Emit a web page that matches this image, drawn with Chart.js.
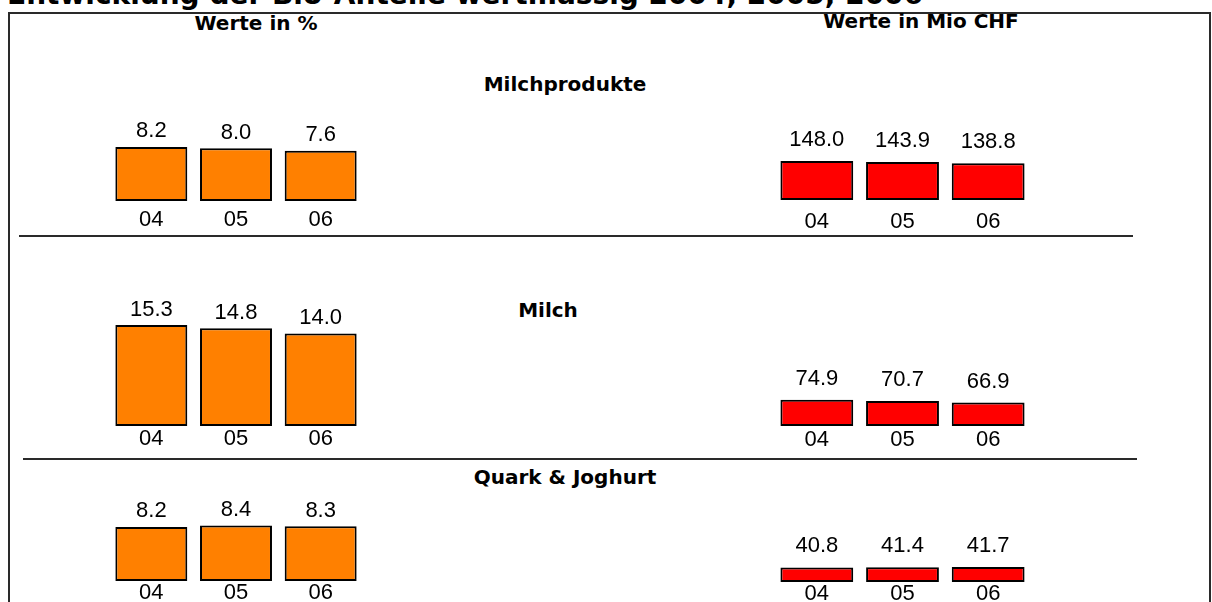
<!DOCTYPE html>
<html>
<head>
<meta charset="utf-8">
<script src="https://cdn.jsdelivr.net/npm/chart.js@4/dist/chart.umd.min.js"></script>
<style>
  html, body { margin: 0; padding: 0; background: #fff; overflow: hidden; }
  body { width: 1212px; height: 602px; position: relative; }
  .txt { position: absolute; line-height: 1; white-space: nowrap; font-family: "DejaVu Sans", sans-serif; font-weight: bold; color: #000; }
  .mitte { transform: translateX(-50%); }
  .linie { position: absolute; background: #2a2a2a; }
  canvas { position: absolute; }
</style>
</head>
<body>

<div class="txt" style="left:7px; top:-19px; font-size:28px;">Entwicklung der Bio-Anteile wertmässig 2004, 2005, 2006</div>

<div class="linie" style="left:8px; top:12px; width:1203px; height:2px;"></div>
<div class="linie" style="left:8px; top:12px; width:2px; height:600px;"></div>
<div class="linie" style="left:1209px; top:12px; width:2px; height:600px;"></div>
<div class="linie" style="left:19px; top:235px; width:1114px; height:2px;"></div>
<div class="linie" style="left:23px; top:458px; width:1114px; height:2px;"></div>

<div class="txt mitte" style="left:256px; top:13px; font-size:20px;">Werte in %</div>
<div class="txt mitte" style="left:921px; top:11px; font-size:20px;">Werte in Mio CHF</div>

<div class="txt mitte" id="titel_0" style="left:565px; top:74px; font-size:20px;"></div>
<div class="txt mitte" id="titel_1" style="left:548px; top:300px; font-size:20px;"></div>
<div class="txt mitte" id="titel_2" style="left:565px; top:467px; font-size:20px;"></div>

<canvas id="l0"></canvas>
<canvas id="l1"></canvas>
<canvas id="l2"></canvas>
<canvas id="r0"></canvas>
<canvas id="r1"></canvas>
<canvas id="r2"></canvas>

<script>
// Daten
const jahre = ['04', '05', '06']
const kategorien = ['Milchprodukte', 'Milch', 'Quark & Joghurt']

const prozent_milchprodukte = [8.2, 8.0, 7.6]
const prozent_milch = [15.3, 14.8, 14.0]
const prozent_quark = [8.2, 8.4, 8.3]

const chf_milchprodukte = [148.0, 143.9, 138.8]
const chf_milch = [74.9, 70.7, 66.9]
const chf_quark = [40.8, 41.4, 41.7]

kategorien.forEach((k, i) => document.querySelector('#titel_' + i).textContent = k)

// Position of each small chart on the page
const pannelli = [
  {id: '#l0', werte: prozent_milchprodukte, farbe: '#FF8000', left: 109, width: 254, bottom: 201, scala: 6.6, pad: 8, gap: 15.5},
  {id: '#l1', werte: prozent_milch, farbe: '#FF8000', left: 109, width: 254, bottom: 426, scala: 6.6, pad: 2, gap: 15.5},
  {id: '#l2', werte: prozent_quark, farbe: '#FF8000', left: 109, width: 254, bottom: 581, scala: 6.6, pad: 1, gap: 15.5},
  {id: '#r0', werte: chf_milchprodukte, farbe: '#FF0000', left: 774, width: 257, bottom: 200, scala: 0.264, pad: 11, gap: 21},
  {id: '#r1', werte: chf_milch, farbe: '#FF0000', left: 774, width: 257, bottom: 426, scala: 0.352, pad: 3, gap: 21},
  {id: '#r2', werte: chf_quark, farbe: '#FF0000', left: 774, width: 257, bottom: 582, scala: 0.358, pad: 1, gap: 21}
]

// Plugin: value above every bar
const wert_labels = {
  id: 'wert_labels',
  afterDatasetsDraw(chart, args, opts) {
    const ctx = chart.ctx
    const ds = chart.data.datasets[0]
    ctx.save()
    ctx.font = '22px "Liberation Sans"'
    ctx.fillStyle = '#000'
    ctx.textAlign = 'center'
    ctx.textBaseline = 'middle'
    chart.getDatasetMeta(0).data.forEach((bar, i) => {
      ctx.fillText(ds.data[i].toFixed(1), bar.x, bar.y - opts.gap)
    })
    ctx.restore()
  }
}

const render_pannello = (p) => {
  const canvas = document.querySelector(p.id)
  const hoehe_max = Math.max(...p.werte) * p.scala
  const oben = Math.round(p.bottom - hoehe_max - p.gap - 20)
  const area = p.bottom - oben
  canvas.width = p.width
  // x axis takes label height plus padding on both sides
  canvas.height = area + 22 + 2 * p.pad
  canvas.style.left = p.left + 'px'
  canvas.style.top = oben + 'px'

  new Chart(canvas, {
    type: 'bar',
    data: {
      labels: jahre,
      datasets: [{
        data: p.werte,
        backgroundColor: p.farbe,
        borderColor: '#000',
        borderWidth: 2,
        borderSkipped: false,
        categoryPercentage: 1,
        barPercentage: 0.85
      }]
    },
    options: {
      responsive: false,
      animation: false,
      layout: {padding: 0},
      plugins: {
        legend: {display: false},
        tooltip: {enabled: false},
        wert_labels: {gap: p.gap}
      },
      scales: {
        x: {
          grid: {display: false, drawTicks: false},
          border: {display: false},
          ticks: {color: '#000', padding: p.pad, font: {family: 'Liberation Sans', size: 22, lineHeight: 1}}
        },
        y: {display: false, min: 0, max: area / p.scala}
      }
    },
    plugins: [wert_labels]
  })
}

pannelli.forEach(p => render_pannello(p))
</script>
</body>
</html>
